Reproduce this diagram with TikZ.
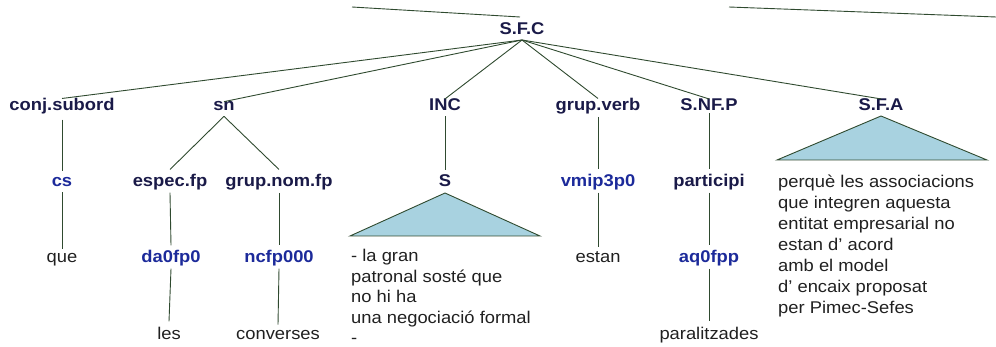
\documentclass[tikz,border=0pt]{standalone}
\usepackage{fontspec}
\setmainfont{Liberation Sans}[FakeStretch=1.08]
\definecolor{edgec}{HTML}{2F4A2F}
\definecolor{navy}{HTML}{1A1A48}
\definecolor{tagblue}{HTML}{1C2A9A}
\definecolor{tri}{HTML}{A8D2E0}
\definecolor{leaf}{HTML}{202020}
\begin{document}
\begin{tikzpicture}[x=1pt,y=-1pt,
  cat/.style={font=\fontsize{17}{20}\selectfont\bfseries, text=navy, inner sep=0pt, anchor=base},
  tag/.style={font=\fontsize{17}{20}\selectfont\bfseries, text=tagblue, inner sep=0pt, anchor=base},
  word/.style={font=\fontsize{17}{20}\selectfont, text=leaf, inner sep=0pt, anchor=base},
  para/.style={font=\fontsize{17}{21}\selectfont, text=leaf, inner sep=0pt, anchor=north west, align=left},
  edge/.style={draw=edgec, line width=0.9pt},
  triangle/.style={draw=edgec, line width=0.9pt, fill=tri}]
\useasboundingbox (0,0) rectangle (996,347);
% level 0
\node[cat] (sfc) at (522,35) {S.F.C};
% level 1
\node[cat] (conj) at (62,111) {conj.subord};
\node[cat] (sn) at (224,111) {sn};
\node[cat] (inc) at (445,111) {INC};
\node[cat] (gv) at (598,111) {grup.verb};
\node[cat] (snfp) at (709,111) {S.NF.P};
\node[cat] (sfa) at (881,111) {S.F.A};
% level 2
\node[tag] (cs) at (62,187) {cs};
\node[cat] (espec) at (170,187) {espec.fp};
\node[cat] (gnom) at (279,187) {grup.nom.fp};
\node[cat] (s) at (445,187) {S};
\node[tag] (vmip) at (598,187) {vmip3p0};
\node[cat] (part) at (709,187) {participi};
% level 3
\node[word] (que) at (62,263) {que};
\node[tag] (da) at (171,263) {da0fp0};
\node[tag] (nc) at (279,263) {ncfp000};
\node[word] (estan) at (598,263) {estan};
\node[tag] (aq) at (709,263) {aq0fpp};
% level 4
\node[word] (les) at (169,339) {les};
\node[word] (conv) at (278,339) {converses};
\node[word] (paral) at (709,339) {paralitzades};
% top fragments
\coordinate (topA) at (352,7);
\coordinate (topB1) at (729,7);
\coordinate (topB2) at (996,17);
\coordinate (sfctop) at (520,17);
\coordinate (sfcbot) at (522,40);
\draw[edge] (topA) -- (sfctop);
\draw[edge] (topB1) -- (topB2);
% edges from S.F.C
\draw[edge] (sfcbot) -- (conj.north);
\draw[edge] (sfcbot) -- (sn.north);
\draw[edge] (sfcbot) -- (inc.north);
\draw[edge] (sfcbot) -- (gv.north);
\draw[edge] (sfcbot) -- (snfp.north);
\draw[edge] (sfcbot) -- (sfa.north);
% vertical edges
\draw[edge] ([yshift=-5pt]conj.south) -- ([yshift=7pt]cs.north);
\draw[edge] ([yshift=-5pt]cs.south) -- ([yshift=5pt]que.north);
\draw[edge] ([yshift=-5pt]sn.south) -- ([yshift=5pt]espec.north);
\draw[edge] ([yshift=-5pt]sn.south) -- ([yshift=5pt]gnom.north);
\draw[edge] ([yshift=-2pt]espec.south) -- ([yshift=5pt]da.north);
\draw[edge] ([yshift=-2pt]gnom.south) -- ([yshift=5pt]nc.north);
\draw[edge] ([yshift=-2pt]da.south) -- ([yshift=5pt]les.north);
\draw[edge] ([yshift=-2pt]nc.south) -- ([yshift=5pt]conv.north);
\draw[edge] ([yshift=-5pt]inc.south) -- ([yshift=5pt]s.north);
\draw[edge] ([yshift=-2pt]gv.south) -- ([yshift=5pt]vmip.north);
\draw[edge] ([yshift=-2pt]vmip.south) -- ([yshift=5pt]estan.north);
\draw[edge] ([yshift=-2pt]snfp.south) -- ([yshift=5pt]part.north);
\draw[edge] ([yshift=-2pt]part.south) -- ([yshift=5pt]aq.north);
\draw[edge] ([yshift=-2pt]aq.south) -- ([yshift=5pt]paral.north);
% triangles
\coordinate (sApex) at (445,193);
\coordinate (sL) at (350,236);
\coordinate (sR) at (540,236);
\draw[triangle] (sApex) -- (sR) -- (sL) -- cycle;
\coordinate (aApex) at (881,116);
\coordinate (aL) at (777,160);
\coordinate (aR) at (987,160);
\draw[triangle] (aApex) -- (aR) -- (aL) -- cycle;
% paragraph texts
\node[para, font=\fontsize{17}{20.6}\selectfont] (inctext) at (351,249) {- la gran\\patronal sosté que\\no hi ha\\una negociació formal\\-};
\node[para] (sfatext) at (778,175) {perquè les associacions\\que integren aquesta\\entitat empresarial no\\estan d’ acord\\amb el model\\d’ encaix proposat\\per Pimec-Sefes};
\end{tikzpicture}
\end{document}
